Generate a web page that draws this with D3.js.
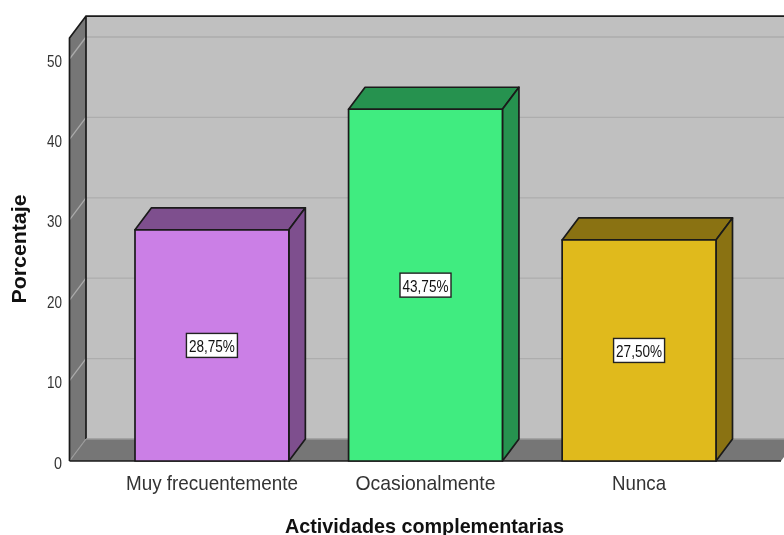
<!DOCTYPE html>
<html><head><meta charset="utf-8">
<script src="https://cdn.jsdelivr.net/npm/d3@7"></script>
<style>
html,body{margin:0;padding:0;background:#fff;overflow:hidden}
svg{display:block;filter:blur(0.45px)}
text{font-family:"Liberation Sans",Arial,sans-serif}
</style></head><body>
<svg id="c" width="784" height="535"></svg>
<script>
const categories = ["Muy frecuentemente","Ocasionalmente","Nunca"];
const values = [28.75,43.75,27.5];
const valueLabels = ["28,75%","43,75%","27,50%"];
const yTicks = [0,10,20,30,40,50];
const xTitle = "Actividades complementarias";
const yTitle = "Porcentaje";
const frontColors = ["#cb7fe6","#40ec80","#e0ba1c"];
const sideColors = ["#7e4f8e","#26924f","#8a7212"];
const categoryWidths = [172,140,54];

const W=784;
const svg=d3.select("#c");
const dx=16.5, dy=-22;
const y=d3.scaleLinear().domain([0,50]).range([461,59]);
const yTop=y(52.6);
const xLeft=69.5, xRight=781;
const xb=d3.scaleBand().domain(categories).range([135,716]).paddingInner(0.2796);
const poly=(pts,fill,stroke,sw)=>svg.append("polygon").attr("points",pts.map(p=>p.join(",")).join(" ")).attr("fill",fill).attr("stroke",stroke||"none").attr("stroke-width",sw||0).attr("stroke-linejoin","round");

// back wall, left wall, floor
poly([[xLeft+dx,yTop+dy],[W+2,yTop+dy],[W+2,y(0)+dy],[xLeft+dx,y(0)+dy]],"#c0c0c0");
poly([[xLeft,yTop],[xLeft+dx,yTop+dy],[xLeft+dx,y(0)+dy],[xLeft,y(0)]],"#767676");
poly([[xLeft,y(0)],[xLeft+dx,y(0)+dy],[xRight+dx,y(0)+dy],[xRight,y(0)]],"#767676");

// gridlines
yTicks.filter(d=>d>0).forEach(t=>{
  svg.append("line").attr("x1",xLeft+dx).attr("x2",W).attr("y1",y(t)+dy).attr("y2",y(t)+dy).attr("stroke","#adadad").attr("stroke-width",1.3);
  svg.append("line").attr("x1",xLeft).attr("x2",xLeft+dx).attr("y1",y(t)).attr("y2",y(t)+dy).attr("stroke","#ababab").attr("stroke-width",1.3);
});
svg.append("line").attr("x1",xLeft).attr("x2",xLeft+dx).attr("y1",y(0)).attr("y2",y(0)+dy).attr("stroke","#9c9c9c").attr("stroke-width",1.2);

// frame lines
const dark="#1a1a1a";
svg.append("path").attr("fill","none").attr("stroke",dark).attr("stroke-width",1.7)
  .attr("d",`M${xLeft},${y(0)}V${yTop}L${xLeft+dx},${yTop+dy}H${W}M${xLeft+dx},${yTop+dy}V${y(0)+dy}`);
svg.append("line").attr("x1",xLeft+dx).attr("x2",W).attr("y1",y(0)+dy).attr("y2",y(0)+dy).attr("stroke","#9a9a9a").attr("stroke-width",1.6);
svg.append("line").attr("x1",xLeft).attr("x2",xRight).attr("y1",y(0)).attr("y2",y(0)).attr("stroke",dark).attr("stroke-width",1.7);

// bars
categories.forEach((c,i)=>{
  const a=xb(c), b=a+xb.bandwidth(), t=y(values[i]), z=y(0);
  poly([[a,t],[a+dx,t+dy],[b+dx,t+dy],[b,t]],sideColors[i],dark,1.7);
  poly([[b,t],[b+dx,t+dy],[b+dx,z+dy],[b,z]],sideColors[i],dark,1.7);
  poly([[a,t],[b,t],[b,z],[a,z]],frontColors[i],dark,1.7);
  const cx=(a+b)/2, cy=(t+z)/2;
  svg.append("rect").attr("x",cx-25.5).attr("y",cy-12).attr("width",51).attr("height",24).attr("fill","#fff").attr("stroke","#222").attr("stroke-width",1.4);
  svg.append("text").attr("x",cx).attr("y",cy+6.5).attr("text-anchor","middle").attr("font-size",17).attr("fill","#111")
    .attr("textLength",46).attr("lengthAdjust","spacingAndGlyphs").text(valueLabels[i]);
  svg.append("text").attr("x",cx).attr("y",z+29).attr("text-anchor","middle").attr("font-size",21).attr("fill","#333")
    .attr("textLength",categoryWidths[i]).attr("lengthAdjust","spacingAndGlyphs").text(c);
});

// y axis
yTicks.forEach(t=>{
  svg.append("text").attr("x",62).attr("y",y(t)+7.5).attr("text-anchor","end").attr("font-size",16).attr("fill","#333")
    .attr("textLength",t===0?8:15).attr("lengthAdjust","spacingAndGlyphs").text(t);
});
// titles
svg.append("text").attr("x",424.5).attr("y",532.5).attr("text-anchor","middle").attr("font-size",21).attr("font-weight","bold").attr("fill","#111")
  .attr("textLength",279).attr("lengthAdjust","spacingAndGlyphs").text(xTitle);
svg.append("text").attr("transform","translate(26,249) rotate(-90)").attr("text-anchor","middle").attr("font-size",20).attr("font-weight","bold").attr("fill","#111")
  .attr("textLength",109).attr("lengthAdjust","spacingAndGlyphs").text(yTitle);
</script>
</body></html>
